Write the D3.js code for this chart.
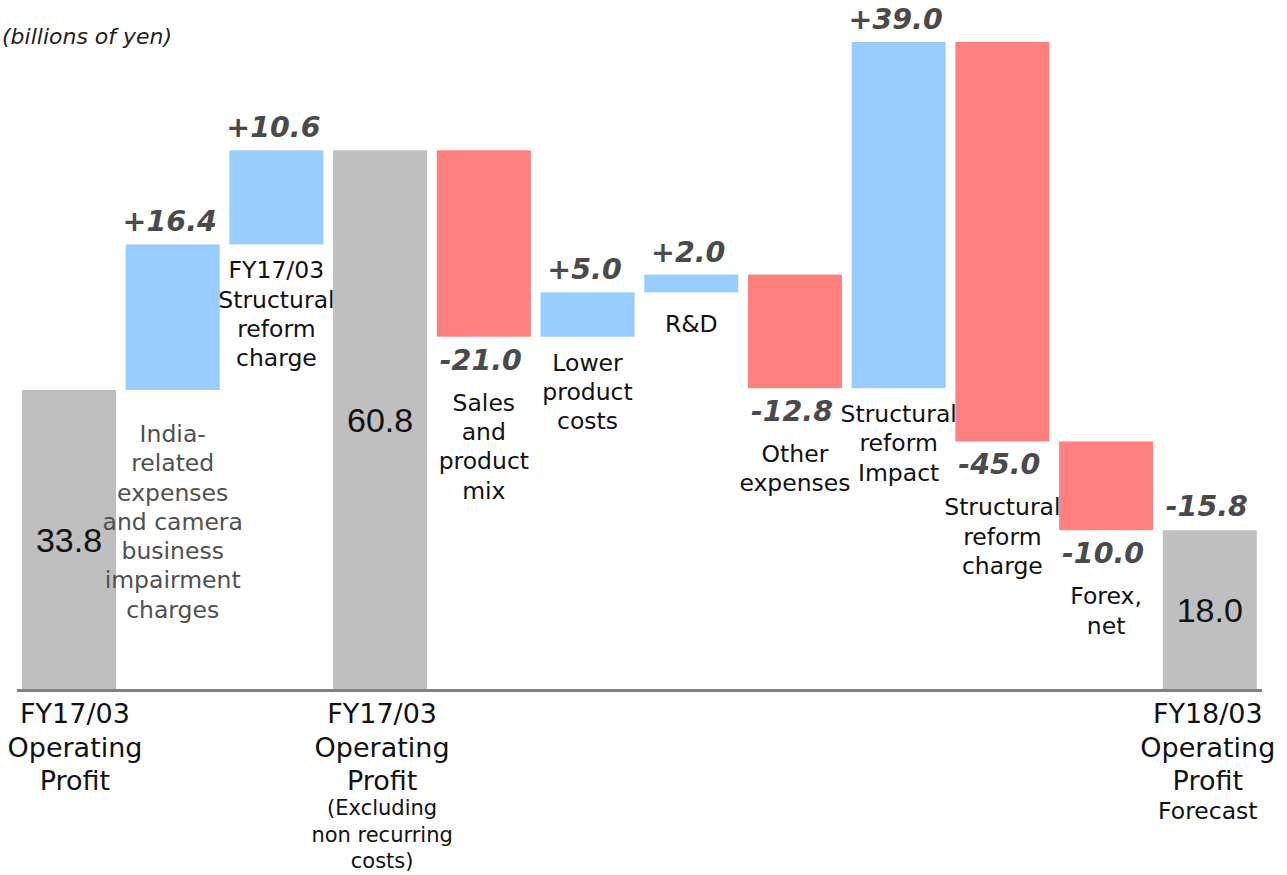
<!DOCTYPE html>
<html>
<head>
<meta charset="utf-8">
<script src="https://cdn.jsdelivr.net/npm/d3@7"></script>
<style>
  html, body { margin: 0; padding: 0; background: #fff; }
  svg { display: block; }
</style>
</head>
<body>
<svg id="chart" width="1287" height="875"></svg>
<script>
// Operating profit bridge, FY17/03 -> FY18/03 forecast (billions of yen)
const steps = ["op1703", "india", "reform1703", "op1703ex", "sales", "costs", "rnd", "other", "reformImpact", "reformCharge", "forex", "op1803"];
const kinds = ["total", "delta", "delta", "total", "delta", "delta", "delta", "delta", "delta", "delta", "delta", "total"];
const values = [33.8, 16.4, 10.6, 60.8, -21.0, 5.0, 2.0, -12.8, 39.0, -45.0, -10.0, 18.0];
const valueText = ["33.8", "+16.4", "+10.6", "60.8", "-21.0", "+5.0", "+2.0", "-12.8", "+39.0", "-45.0", "-10.0", "18.0"];
const stepLabels = [
  [],
  ["India-", "related", "expenses", "and camera", "business", "impairment", "charges"],
  ["FY17/03", "Structural", "reform", "charge"],
  [],
  ["Sales", "and", "product", "mix"],
  ["Lower", "product", "costs"],
  ["R&D"],
  ["Other", "expenses"],
  ["Structural", "reform", "Impact"],
  ["Structural", "reform", "charge"],
  ["Forex,", "net"],
  []
];
const axisLabels = [
  {main: ["FY17/03", "Operating", "Profit"], sub: []},
  {main: ["FY17/03", "Operating", "Profit"], sub: ["(Excluding", "non recurring", "costs)"]},
  {main: ["FY18/03", "Operating", "Profit"], sub: ["Forecast"]}
];
const overallChange = "-15.8";
const unitLabel = "(billions of yen)";

const colors = {up: "#99ccff", down: "#ff8080", total: "#bfbfbf"};
const svg = d3.select("#chart");
const font = "'DejaVu Sans', Verdana, sans-serif";

// running totals for each step
let level = 0;
const bars = steps.map((k, i) => {
  let y0, y1;
  if (kinds[i] === "total") { y0 = 0; y1 = values[i]; level = values[i]; }
  else { y0 = level; y1 = level + values[i]; level = y1; }
  return {i, key: k, kind: kinds[i], value: values[i], lo: Math.min(y0, y1), hi: Math.max(y0, y1)};
});

const x = d3.scaleBand().domain(steps).range([16.8, 1262]).paddingInner(0.0935).paddingOuter(0.05);
const y = d3.scaleLinear().domain([0, d3.max(bars, d => d.hi)]).range([690, 42]);

// unit
svg.append("text").attr("x", 2).attr("y", 44).attr("text-anchor", "start")
  .attr("font-family", font).attr("font-style", "italic").attr("font-size", 22)
  .attr("fill", "#222").text(unitLabel);

// bars
svg.append("g").selectAll("rect").data(bars).join("rect")
  .attr("x", d => x(d.key)).attr("width", x.bandwidth())
  .attr("y", d => y(d.hi)).attr("height", d => y(d.lo) - y(d.hi))
  .attr("fill", d => d.kind === "total" ? colors.total : (d.value >= 0 ? colors.up : colors.down));

// baseline
svg.append("line").attr("x1", 17).attr("x2", 1262).attr("y1", 690.5).attr("y2", 690.5)
  .attr("stroke", "#808080").attr("stroke-width", 3);

const cx = d => x(d.key) + x.bandwidth() / 2;
const lineH = 29.3;

bars.forEach(d => {
  const g = svg.append("g");
  if (d.kind === "total") {
    g.append("text").attr("x", cx(d)).attr("y", (y(d.lo) + y(d.hi)) / 2)
      .attr("text-anchor", "middle").attr("dominant-baseline", "central")
      .attr("font-family", "'Liberation Sans', Arial, sans-serif").attr("font-size", 34)
      .attr("fill", "#111").text(valueText[d.i]);
    return;
  }
  const valueLabel = g.append("text").attr("x", cx(d) - 3).attr("text-anchor", "middle")
    .attr("font-family", font).attr("font-weight", "bold").attr("font-style", "italic")
    .attr("font-size", 28.5).attr("fill", "#4a4a4a").text(valueText[d.i]);
  let firstBase;
  if (d.value >= 0) {
    valueLabel.attr("y", y(d.hi) - 13);
    firstBase = y(d.lo) + (d.key === "india" ? 52 : (d.key === "rnd" ? 40 : 34));
  } else {
    const vb = y(d.lo) + 33;
    valueLabel.attr("y", vb);
    firstBase = vb + 41;
  }
  const t = g.append("text").attr("text-anchor", "middle").attr("font-family", font)
    .attr("font-size", 23.5).attr("fill", d.key === "india" ? "#505050" : "#111");
  stepLabels[d.i].forEach((s, j) => {
    t.append("tspan").attr("x", cx(d)).attr("y", firstBase + j * lineH).text(s);
  });
});

// change over the year, above the forecast bar
const last = bars[bars.length - 1];
svg.append("text").attr("x", cx(last) - 3).attr("y", y(last.hi) - 14).attr("text-anchor", "middle")
  .attr("font-family", font).attr("font-weight", "bold").attr("font-style", "italic")
  .attr("font-size", 28.5).attr("fill", "#4a4a4a").text(overallChange);

// category labels under the axis
const totals = bars.filter(d => d.kind === "total");
totals.forEach((d, k) => {
  const lab = axisLabels[k];
  const cxx = cx(d) + (k === 0 ? 6 : (k === 2 ? -2 : 2));
  const t = svg.append("text").attr("text-anchor", "middle").attr("font-family", font)
    .attr("font-size", 27).attr("fill", "#111");
  lab.main.forEach((s, j) => t.append("tspan").attr("x", cxx).attr("y", 723 + j * 33.5).text(s));
  const subSize = lab.sub.length > 1 ? 21 : 23.5;
  const subStart = lab.sub.length > 1 ? 815 : 819;
  const u = svg.append("text").attr("text-anchor", "middle").attr("font-family", font)
    .attr("font-size", subSize).attr("fill", "#111");
  lab.sub.forEach((s, j) => u.append("tspan").attr("x", cxx).attr("y", subStart + j * 26.5).text(s));
});
</script>
</body>
</html>
